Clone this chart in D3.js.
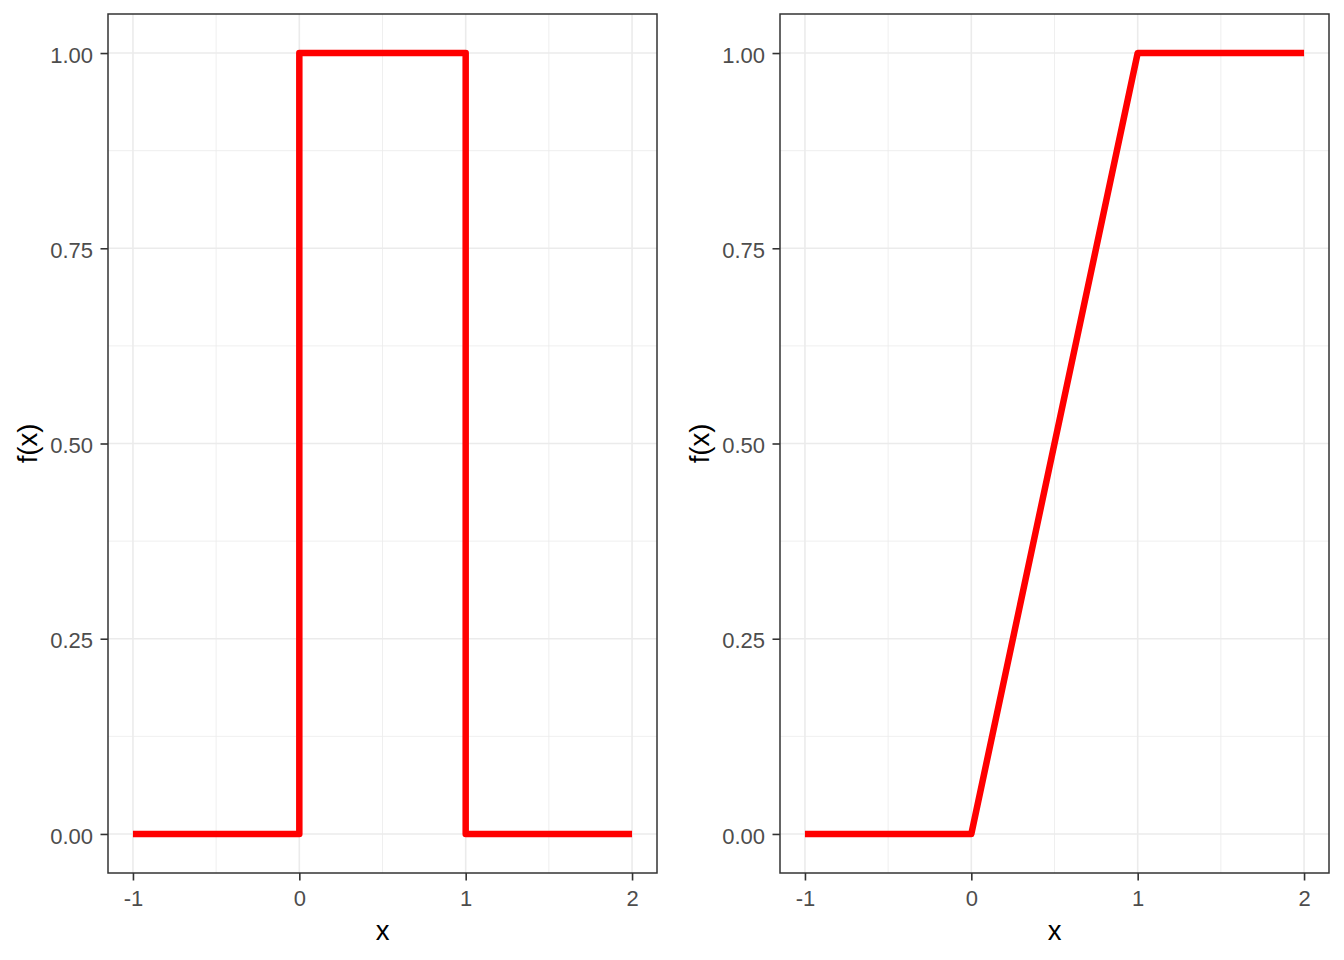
<!DOCTYPE html>
<html>
<head>
<meta charset="utf-8">
<script src="https://cdn.jsdelivr.net/npm/d3@7"></script>
<style>
  body { margin: 0; background: #fff; }
  text { font-family: "Liberation Sans", Arial, sans-serif; }
</style>
</head>
<body>
<div id="chart"></div>
<script>
// step function (left) and ramp (right)
const pdfX = [-1, 0, 0, 1, 1, 2];
const pdfY = [0, 0, 1, 1, 0, 0];
const cdfX = [-1, 0, 1, 2];
const cdfY = [0, 0, 1, 1];
const xTicks = [-1, 0, 1, 2];
const yTicks = [0, 0.25, 0.5, 0.75, 1];
const xMinor = [-0.5, 0.5, 1.5];
const yMinor = [0.125, 0.375, 0.625, 0.875];

const W = 1344, H = 960;
const svg = d3.select("#chart").append("svg")
  .attr("width", W).attr("height", H);

const panels = [
  { left: 108, xs: pdfX, ys: pdfY },
  { left: 780, xs: cdfX, ys: cdfY }
];
const pw = 549, plotTop = 14, ph = 859;
const fontFam = '"Liberation Sans", Arial, sans-serif';

panels.forEach(p => {
  const x = d3.scaleLinear().domain([-1.15, 2.15]).range([p.left, p.left + pw]);
  const y = d3.scaleLinear().domain([-0.05, 1.05]).range([plotTop + ph, plotTop]);
  const g = svg.append("g");

  // minor grid
  g.selectAll(".mx").data(xMinor).join("line")
    .attr("x1", d => x(d)).attr("x2", d => x(d))
    .attr("y1", plotTop).attr("y2", plotTop + ph)
    .attr("stroke", "#ebebeb").attr("stroke-width", 0.8);
  g.selectAll(".my").data(yMinor).join("line")
    .attr("y1", d => y(d)).attr("y2", d => y(d))
    .attr("x1", p.left).attr("x2", p.left + pw)
    .attr("stroke", "#ebebeb").attr("stroke-width", 0.8);
  // major grid
  g.selectAll(".gx").data(xTicks).join("line")
    .attr("x1", d => x(d)).attr("x2", d => x(d))
    .attr("y1", plotTop).attr("y2", plotTop + ph)
    .attr("stroke", "#ebebeb").attr("stroke-width", 1.6);
  g.selectAll(".gy").data(yTicks).join("line")
    .attr("y1", d => y(d)).attr("y2", d => y(d))
    .attr("x1", p.left).attr("x2", p.left + pw)
    .attr("stroke", "#ebebeb").attr("stroke-width", 1.6);

  // the line
  const pts = p.xs.map((v, i) => [v, p.ys[i]]);
  g.append("path")
    .datum(pts)
    .attr("d", d3.line().x(d => x(d[0])).y(d => y(d[1])))
    .attr("fill", "none").attr("stroke", "#ff0000")
    .attr("stroke-width", 6.5).attr("stroke-linejoin", "round");

  // border
  g.append("rect")
    .attr("x", p.left).attr("y", plotTop).attr("width", pw).attr("height", ph)
    .attr("fill", "none").attr("stroke", "#333333").attr("stroke-width", 1.5);

  // axes
  const xAxis = g.append("g")
    .attr("transform", `translate(0,${plotTop + ph})`)
    .call(d3.axisBottom(x).tickValues(xTicks).tickFormat(d => String(d)).tickSize(7.5).tickPadding(10));
  const yAxis = g.append("g")
    .attr("transform", `translate(${p.left},0)`)
    .call(d3.axisLeft(y).tickValues(yTicks).tickFormat(d3.format(".2f")).tickSize(7.5).tickPadding(7.5));
  yAxis.selectAll(".tick text").attr("dy", "0.42em");
  [xAxis, yAxis].forEach(a => {
    a.attr("font-size", 22).attr("font-family", fontFam);
    a.select(".domain").remove();
    a.selectAll(".tick line").attr("stroke", "#333333").attr("stroke-width", 1.6);
    a.selectAll(".tick text").attr("fill", "#4d4d4d");
  });

  g.append("text")
    .attr("x", p.left + pw / 2).attr("y", 940)
    .attr("text-anchor", "middle").attr("font-size", 27.5).attr("fill", "#000")
    .text("x");
  g.append("text")
    .attr("transform", `translate(${p.left - 71},${plotTop + ph / 2}) rotate(-90)`)
    .attr("text-anchor", "middle").attr("font-size", 27.5).attr("fill", "#000")
    .text("f(x)");
});
</script>
</body>
</html>
